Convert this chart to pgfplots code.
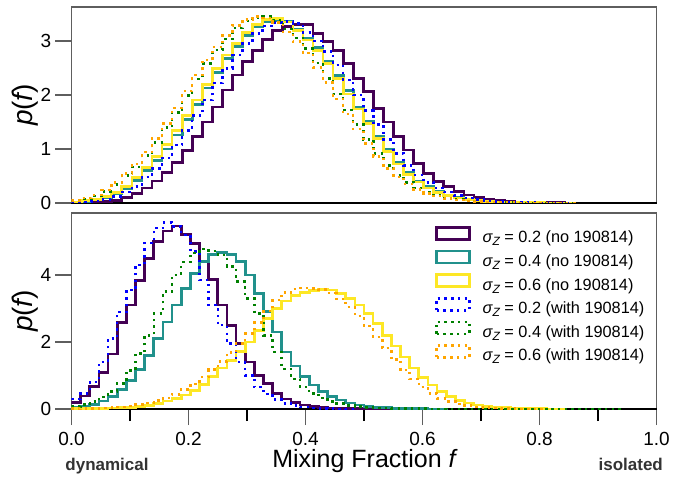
\documentclass[border=0pt]{standalone}
\usepackage{fontspec}
\setmainfont{Liberation Sans}
\usepackage{pgfplots}
\usepackage{pgfplotstable}
\pgfplotsset{compat=1.18}

\definecolor{vpurple}{HTML}{440154}
\definecolor{vteal}{HTML}{21918C}
\definecolor{vyellow}{HTML}{FDE725}
\definecolor{mblue}{HTML}{0000FF}
\definecolor{mgreen}{HTML}{008000}
\definecolor{morange}{HTML}{FFA500}
\definecolor{spine}{HTML}{5E5E5E}

\newcommand\ticksize{\fontsize{19bp}{22bp}\selectfont}
\newcommand\labsize{\fontsize{25bp}{30bp}\selectfont}
\newcommand\ylabsize{\fontsize{28bp}{32bp}\selectfont}
\newcommand\legsize{\fontsize{16.3bp}{19bp}\selectfont}
\newcommand\sidesize{\fontsize{17bp}{20bp}\selectfont}
\newcommand\sig[1]{{\itshape σ}\raisebox{-3bp}{\fontsize{12bp}{12bp}\selectfont\itshape Z} = #1}

% ---------- upper panel: bin width 0.0172 ----------
\pgfplotstableread[row sep=\\]{v\\0.004\\0.008\\0.015\\0.03\\0.05\\0.1\\0.17\\0.28\\0.41\\0.57\\0.75\\0.97\\1.23\\1.5\\1.78\\2.09\\2.37\\2.62\\2.83\\3.03\\3.2\\3.27\\3.3\\3.3\\3.14\\2.99\\2.83\\2.59\\2.31\\2.06\\1.75\\1.5\\1.23\\0.98\\0.73\\0.55\\0.4\\0.3\\0.21\\0.15\\0.1\\0.07\\0.045\\0.03\\0.02\\0.012\\0.008\\0.005\\0.003\\0.002\\0\\}\topP
\pgfplotstableread[row sep=\\]{v\\0.016\\0.032\\0.055\\0.1\\0.17\\0.27\\0.42\\0.6\\0.79\\1.0\\1.26\\1.54\\1.83\\2.13\\2.42\\2.68\\2.9\\3.1\\3.26\\3.35\\3.38\\3.36\\3.22\\3.05\\2.88\\2.63\\2.36\\2.08\\1.78\\1.52\\1.24\\0.99\\0.75\\0.56\\0.41\\0.3\\0.21\\0.15\\0.1\\0.068\\0.045\\0.03\\0.02\\0.012\\0.008\\0.005\\0.003\\0.002\\0.001\\0.001\\0\\}\topT
\pgfplotstableread[row sep=\\]{v\\0.02\\0.04\\0.065\\0.12\\0.2\\0.31\\0.47\\0.66\\0.86\\1.08\\1.34\\1.62\\1.91\\2.2\\2.49\\2.74\\2.96\\3.16\\3.3\\3.4\\3.42\\3.35\\3.2\\3.02\\2.83\\2.58\\2.3\\2.02\\1.74\\1.47\\1.2\\0.95\\0.72\\0.53\\0.39\\0.28\\0.2\\0.14\\0.095\\0.064\\0.042\\0.028\\0.018\\0.011\\0.007\\0.004\\0.003\\0.002\\0.001\\0.001\\0\\}\topY
\pgfplotstableread[row sep=\\]{v\\0.01\\0.02\\0.036\\0.066\\0.12\\0.2\\0.31\\0.48\\0.64\\0.83\\1.07\\1.34\\1.62\\1.91\\2.22\\2.49\\2.74\\2.95\\3.14\\3.28\\3.34\\3.36\\3.32\\3.16\\3.0\\2.81\\2.56\\2.28\\2.0\\1.71\\1.45\\1.18\\0.92\\0.69\\0.52\\0.38\\0.28\\0.2\\0.14\\0.093\\0.063\\0.041\\0.027\\0.017\\0.011\\0.007\\0.004\\0.003\\0.002\\0.001\\0\\}\topB
\pgfplotstableread[row sep=\\]{v\\0.04\\0.073\\0.13\\0.21\\0.34\\0.51\\0.67\\0.88\\1.12\\1.4\\1.68\\1.99\\2.3\\2.58\\2.83\\3.04\\3.24\\3.37\\3.43\\3.45\\3.38\\3.22\\3.06\\2.86\\2.59\\2.31\\2.02\\1.72\\1.45\\1.18\\0.92\\0.69\\0.51\\0.38\\0.28\\0.19\\0.135\\0.092\\0.063\\0.041\\0.027\\0.018\\0.011\\0.007\\0.004\\0.003\\0.002\\0.001\\0.001\\0.001\\0\\}\topG
\pgfplotstableread[row sep=\\]{v\\0.05\\0.09\\0.15\\0.24\\0.38\\0.55\\0.72\\0.94\\1.19\\1.47\\1.76\\2.07\\2.37\\2.65\\2.89\\3.1\\3.29\\3.4\\3.45\\3.43\\3.34\\3.17\\2.99\\2.78\\2.51\\2.23\\1.93\\1.65\\1.37\\1.1\\0.86\\0.64\\0.48\\0.35\\0.25\\0.18\\0.125\\0.085\\0.058\\0.038\\0.025\\0.016\\0.01\\0.006\\0.004\\0.003\\0.002\\0.001\\0.001\\0.001\\0\\}\topO

% ---------- lower panel: bin width 1/64 ----------
\pgfplotstableread[row sep=\\]{v\\0.2\\0.39\\0.67\\1.09\\1.64\\2.58\\3.10\\3.83\\4.49\\4.99\\5.31\\5.46\\5.21\\4.94\\4.42\\3.87\\3.10\\2.50\\1.95\\1.40\\1.01\\0.76\\0.47\\0.30\\0.2\\0.12\\0.08\\0.05\\0.03\\0.02\\0.01\\0.006\\0.003\\0.002\\0.001\\0\\}\botP
\pgfplotstableread[row sep=\\]{v\\0.05\\0.08\\0.14\\0.24\\0.38\\0.58\\0.85\\1.17\\1.6\\2.1\\2.6\\3.1\\3.6\\4.05\\4.4\\4.62\\4.68\\4.62\\4.4\\4.0\\3.45\\2.9\\2.3\\1.7\\1.28\\0.97\\0.72\\0.52\\0.37\\0.27\\0.18\\0.12\\0.08\\0.05\\0.035\\0.02\\0.015\\0.01\\0.006\\0.004\\0.003\\0\\}\botT
\pgfplotstableread[row sep=\\]{v\\0.005\\0.008\\0.012\\0.018\\0.027\\0.04\\0.055\\0.08\\0.11\\0.17\\0.24\\0.31\\0.42\\0.56\\0.74\\0.97\\1.22\\1.45\\1.72\\2.0\\2.35\\2.7\\3.0\\3.22\\3.38\\3.47\\3.53\\3.57\\3.55\\3.45\\3.3\\3.1\\2.85\\2.55\\2.2\\1.88\\1.55\\1.22\\0.95\\0.72\\0.52\\0.37\\0.26\\0.18\\0.12\\0.08\\0.05\\0.035\\0.02\\0.015\\0.01\\0.006\\0.004\\0.002\\0\\}\botY
\pgfplotstableread[row sep=\\]{v\\0.3\\0.47\\0.8\\1.4\\2.1\\2.9\\3.55\\4.3\\4.95\\5.4\\5.57\\5.45\\5.2\\4.7\\3.85\\3.1\\2.5\\1.95\\1.4\\1.0\\0.65\\0.45\\0.28\\0.17\\0.1\\0.06\\0.035\\0.02\\0.01\\0.005\\0.003\\0\\}\botB
\pgfplotstableread[row sep=\\]{v\\0.08\\0.13\\0.22\\0.36\\0.52\\0.76\\1.15\\1.65\\2.2\\2.85\\3.5\\4.0\\4.38\\4.65\\4.78\\4.72\\4.6\\4.25\\3.8\\3.3\\2.85\\2.2\\1.7\\1.2\\0.9\\0.65\\0.47\\0.33\\0.23\\0.16\\0.11\\0.075\\0.05\\0.035\\0.025\\0.018\\0.014\\0.011\\0.009\\0.007\\0.006\\0.005\\0.004\\0.004\\0.003\\0.003\\0.003\\0.002\\0.002\\0.002\\0.002\\0.002\\0.001\\0.001\\0.001\\0.001\\0.001\\0.001\\0.001\\0.001\\0\\}\botG
\pgfplotstableread[row sep=\\]{v\\0.01\\0.015\\0.022\\0.032\\0.045\\0.065\\0.09\\0.13\\0.18\\0.25\\0.33\\0.44\\0.58\\0.75\\0.95\\1.18\\1.42\\1.68\\1.95\\2.25\\2.58\\2.92\\3.25\\3.48\\3.58\\3.61\\3.6\\3.56\\3.46\\3.28\\3.05\\2.78\\2.47\\2.15\\1.82\\1.48\\1.16\\0.9\\0.66\\0.47\\0.32\\0.22\\0.15\\0.1\\0.065\\0.042\\0.027\\0.017\\0.01\\0.006\\0.004\\0.002\\0\\}\botO

\pgfplotsset{
  solidh/.style={const plot mark left, no markers, line width=2.7bp},
  doth/.style={const plot mark left, no markers, line width=2.5bp, dash pattern=on 2.5bp off 4.2bp},
  panel/.style={
    scale only axis, width=585bp, height=196bp,
    xmin=0, xmax=1, ymin=0,
    clip mode=individual,
    axis line style={draw=spine, line width=1.5bp},
    tick align=outside,
    major tick length=16bp, minor tick length=12bp,
    major tick style={draw=spine, line width=1.5bp},
    minor tick style={draw=black, line width=1.3bp},
    xtick pos=bottom, ytick pos=left,
    tick label style={font=\ticksize},
    /pgf/number format/assume math mode=true,
    yticklabel style={anchor=east, inner sep=0pt, xshift=-4bp},
    xticklabel style={anchor=base, inner sep=0pt, yshift=-20bp},
    ylabel style={at={(axis description cs:-0.0786,0.5)}, anchor=center, font=\ylabsize},
    ylabel={\itshape p\upshape(\itshape f\upshape)},
  },
}

\begin{document}
\begin{tikzpicture}
\path[use as bounding box] (-71.5bp,-70bp) rectangle (601.5bp,409bp);

% upper panel
\begin{axis}[panel, at={(0,206bp)}, anchor=south west,
  ymax=3.63, ytick={0,1,2,3}, yticklabels={0,1,2,3},
  xtick=\empty]
\draw[black, line width=1.5bp] (axis cs:0,0) -- (axis cs:1,0);
\addplot[solidh, vpurple] table[x expr=\coordindex*0.0172, y=v] {\topP};
\addplot[solidh, vteal]   table[x expr=\coordindex*0.0172, y=v] {\topT};
\addplot[solidh, vyellow] table[x expr=\coordindex*0.0172, y=v] {\topY};
\addplot[doth, mblue]     table[x expr=\coordindex*0.0172, y=v] {\topB};
\addplot[doth, mgreen]    table[x expr=\coordindex*0.0172, y=v] {\topG};
\addplot[doth, morange]   table[x expr=\coordindex*0.0172, y=v] {\topO};
\end{axis}

% lower panel
\begin{axis}[panel, at={(0,0)}, anchor=south west,
  ymax=5.85, ytick={0,2,4}, yticklabels={0,2,4},
  xtick={0,0.2,0.4,0.6,0.8,1}, xticklabels={0.0,0.2,0.4,0.6,0.8,1.0},
  minor xtick={0.1,0.3,0.5,0.7,0.9},
  xlabel={Mixing Fraction {\itshape f}},
  xlabel style={at={(axis description cs:0.5,0)}, anchor=base, yshift=-58bp, font=\labsize},
  legend cell align=left,
  legend image code/.code={\draw[#1] (0bp,-1bp) rectangle (33bp,11bp);},
  legend style={draw=none, fill=none, at={(axis description cs:0.621,0.934)}, anchor=north west,
    inner sep=0pt, row sep=2.8bp, column sep=12bp,
    nodes={inner sep=0pt, text height=13bp, text depth=4bp, font=\legsize}},
]
\draw[black, line width=1.5bp] (axis cs:0,0) -- (axis cs:1,0);
\addplot[solidh, vpurple] table[x expr=\coordindex*0.015625, y=v] {\botP};
\addlegendentry{\sig{0.2} (no 190814)}
\addplot[solidh, vteal]   table[x expr=\coordindex*0.015625, y=v] {\botT};
\addlegendentry{\sig{0.4} (no 190814)}
\addplot[solidh, vyellow] table[x expr=\coordindex*0.015625, y=v] {\botY};
\addlegendentry{\sig{0.6} (no 190814)}
\addplot[doth, mblue]     table[x expr=\coordindex*0.015625, y=v] {\botB};
\addlegendentry{\sig{0.2} (with 190814)}
\addplot[doth, mgreen]    table[x expr=\coordindex*0.015625, y=v] {\botG};
\addlegendentry{\sig{0.4} (with 190814)}
\addplot[doth, morange]   table[x expr=\coordindex*0.015625, y=v] {\botO};
\addlegendentry{\sig{0.6} (with 190814)}
\node[font=\sidesize\bfseries, text=black!80, anchor=base] at (axis description cs:0.0607,0) [yshift=-61bp] {dynamical};
\node[font=\sidesize\bfseries, text=black!80, anchor=base] at (axis description cs:0.956,0) [yshift=-61bp] {isolated};
\end{axis}
\end{tikzpicture}
\end{document}
